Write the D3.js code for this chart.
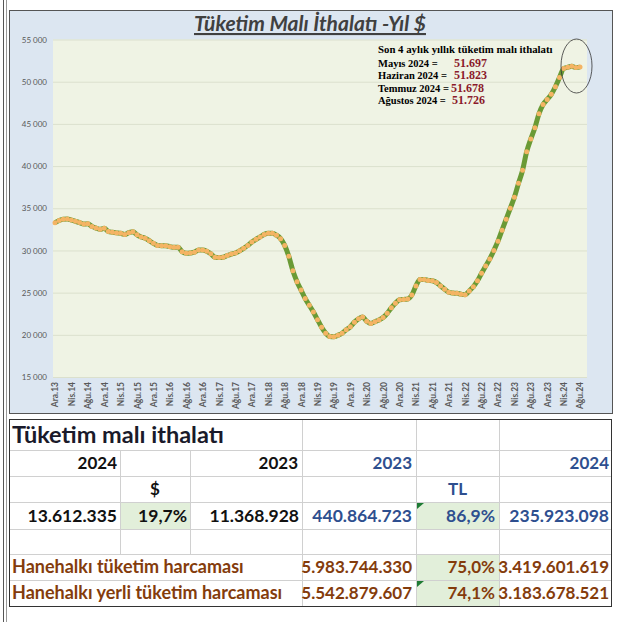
<!DOCTYPE html>
<html>
<head>
<meta charset="utf-8">
<script src="https://d3js.org/d3.v7.min.js"></script>
<style>
body {margin:0; background:#fff}
svg {display:block}
</style>
</head>
<body>
<svg width="617" height="622"></svg>
<script>
/*** Data ***/
const monthNames = ["Oca","Şub","Mar","Nis","May","Haz","Tem","Ağu","Eyl","Eki","Kas","Ara"]
const months = ["Ara.13"]
for (let y = 14; y <= 24; y++) monthNames.forEach((m, i) => { if (y < 24 || i < 8) months.push(m + "." + y) })

// yıllık tüketim malı ithalatı, milyon $ (Ara.13 - Ağu.24)
const values = [
	33285, 33550, 33700, 33720, 33600, 33450, 33300, 33130, 33150, 32850,
	32650, 32500, 32620, 32250, 32150, 32080, 32030, 31900, 32100, 32220,
	31850, 31600, 31450, 31150, 30840, 30600, 30560, 30560, 30450, 30370,
	30370, 29850, 29660, 29700, 29800, 30050, 30050, 29900, 29600, 29190,
	29150, 29190, 29400, 29570, 29700, 29950, 30250, 30600, 31000, 31320,
	31600, 31900, 32030, 32030, 31800, 31400, 30600, 29300, 27600, 26300,
	25300, 24300, 23500, 22700, 21800, 20900, 20200, 19800, 19780, 19950,
	20180, 20600, 20950, 21500, 21900, 22100, 21600, 21350, 21550, 21750,
	22050, 22550, 23200, 23750, 24150, 24200, 24250, 24720, 25800, 26550,
	26550, 26450, 26400, 26200, 25800, 25400, 25050, 24950, 24920, 24820,
	24750, 25200, 25700, 26400, 27300, 28150, 29000, 30000, 31100, 32400,
	33700, 35000, 36300, 37950, 39500, 41700, 43200, 44550, 46200, 47300,
	47900, 48500, 49400, 50500, 51550, 51697, 51823, 51678, 51726
]

const tickLabels = ["Ara.13","Nis.14","Ağu.14","Ara.14","Nis.15","Ağu.15","Ara.15","Nis.16","Ağu.16","Ara.16",
	"Nis.17","Ağu.17","Ara.17","Nis.18","Ağu.18","Ara.18","Nis.19","Ağu.19","Ara.19","Nis.20","Ağu.20",
	"Ara.20","Nis.21","Ağu.21","Ara.21","Nis.22","Ağu.22","Ara.22","Nis.23","Ağu.23","Ara.23","Nis.24","Ağu.24"]
const yTicks = [15000, 20000, 25000, 30000, 35000, 40000, 45000, 50000, 55000]

const noteTitle = "Son 4 aylık yıllık tüketim malı ithalatı"
const noteLabels = ["Mayıs 2024 =", "Haziran 2024 =", "Temmuz 2024 =", "Ağustos 2024 ="]
const noteValues = ["51.697", "51.823", "51.678", "51.726"]

// tablo
const tableTitle = "Tüketim malı ithalatı"
const usdYears = ["2024", "2023"]
const tlYears = ["2023", "2024"]
const usdRow = ["13.612.335", "19,7%", "11.368.928"]
const tlRow = ["440.864.723", "86,9%", "235.923.098"]
const hhLabels = ["Hanehalkı tüketim harcaması", "Hanehalkı yerli tüketim harcaması"]
const hhValues = [["5.983.744.330", "75,0%", "3.419.601.619"], ["5.542.879.607", "74,1%", "3.183.678.521"]]

/*** Chart ***/
const svg = d3.select("svg")
const sans = "Lato, 'Open Sans', sans-serif"

// frame
svg.append("line").attr("x1", 3.5).attr("x2", 3.5).attr("y1", 0).attr("y2", 622).attr("stroke", "#555")
svg.append("line").attr("x1", 6.5).attr("x2", 6.5).attr("y1", 0).attr("y2", 622).attr("stroke", "#999")
svg.append("rect").attr("x", 9.5).attr("y", 10.5).attr("width", 603).attr("height", 403)
   .attr("fill", "#dce6f1").attr("stroke", "#555")

const pl = 53, pr = 587, pt = 39.5, pb = 377
svg.append("rect").attr("x", pl).attr("y", pt).attr("width", pr - pl).attr("height", pb - pt).attr("fill", "#eff3e4")

const x = d3.scalePoint().domain(months).range([55, 580])
const y = d3.scaleLinear().domain([15000, 55000]).range([pb, pt])

const ya = svg.append("g")
	.attr("transform", "translate(" + pl + ",0)")
	.call(d3.axisLeft(y).tickValues(yTicks).tickSize(-(pr - pl)).tickPadding(6)
		.tickFormat((d) => d3.format(",")(d).replace(",", " ")))
ya.select(".domain").remove()
ya.selectAll("line").attr("stroke", "#dbe0cd")
ya.selectAll("text").attr("fill", "#595959").style("font", "8px " + sans)

const xa = svg.append("g")
	.attr("transform", "translate(0," + pb + ")")
	.call(d3.axisBottom(x).tickValues(tickLabels).tickSize(0))
xa.select(".domain").remove()
xa.selectAll("text")
  .attr("transform", "rotate(-90)")
  .attr("x", -5).attr("y", 0).attr("dy", "0.35em")
  .attr("text-anchor", "end")
  .attr("fill", "#595959")
  .style("font", "bold 8.5px " + sans)

// seri
const line = d3.line().x((d, i) => x(months[i])).y((d) => y(d)).curve(d3.curveMonotoneX)
svg.append("path").datum(values)
   .attr("d", line).attr("fill", "none").attr("stroke", "#6a9a35").attr("stroke-width", 5)
svg.append("g").selectAll("circle").data(values).enter().append("circle")
   .attr("cx", (d, i) => x(months[i])).attr("cy", (d) => y(d)).attr("r", 2.5).attr("fill", "#f4b464")

// title
svg.append("text").attr("x", 310).attr("y", 31).attr("text-anchor", "middle")
   .attr("fill", "#404040").style("font", "italic bold 21px " + sans).style("text-decoration", "underline")
   .text("Tüketim Malı İthalatı -Yıl $")

// not
const serif = "'Liberation Serif', 'Times New Roman', serif"
svg.append("text").attr("x", 378).attr("y", 53).style("font", "bold 10.8px " + serif).text(noteTitle)
noteLabels.forEach((t, i) => {
	svg.append("text").attr("x", 378).attr("y", 66.5 + i * 12.6).style("font", "bold 10.5px " + serif).text(t)
	svg.append("text").attr("x", [454, 454, 451, 452][i]).attr("y", 66.5 + i * 12.6)
	   .attr("fill", "#8b1a2b").style("font", "bold 12px " + serif).text(noteValues[i])
})
svg.append("ellipse").attr("cx", 576.5).attr("cy", 66).attr("rx", 15.5).attr("ry", 27)
   .attr("fill", "none").attr("stroke", "#333").attr("stroke-width", 0.8)

/*** Table ***/
const cx = [10, 120, 190, 302, 416, 499, 611]
const ry = [420, 450, 476, 502, 529, 554, 580, 606]
const blue = "#2e4f8f", brown = "#843c0c", dark = "#111"
const tb = svg.append("g")

tb.append("rect").attr("x", cx[0]).attr("y", ry[0]).attr("width", cx[6] - cx[0]).attr("height", ry[7] - ry[0]).attr("fill", "#fff")
// green cells
;[[1, 3], [4, 3], [4, 5], [4, 6]].forEach((c) => {
	tb.append("rect").attr("x", cx[c[0]]).attr("y", ry[c[1]]).attr("width", cx[c[0] + 1] - cx[c[0]])
	  .attr("height", ry[c[1] + 1] - ry[c[1]]).attr("fill", "#e2efda")
})
// grid
ry.slice(1, 7).forEach((v) => tb.append("line").attr("x1", cx[0]).attr("x2", cx[6]).attr("y1", v + .5).attr("y2", v + .5).attr("stroke", "#d0d0d0"))
;[1, 2].forEach((c) => tb.append("line").attr("x1", cx[c] + .5).attr("x2", cx[c] + .5).attr("y1", ry[1]).attr("y2", ry[5]).attr("stroke", "#d0d0d0"))
;[3, 4, 5].forEach((c) => tb.append("line").attr("x1", cx[c] + .5).attr("x2", cx[c] + .5).attr("y1", ry[0]).attr("y2", ry[7]).attr("stroke", "#d0d0d0"))
tb.append("rect").attr("x", cx[0] - .5).attr("y", ry[0] - .5).attr("width", cx[6] - cx[0] + 1).attr("height", ry[7] - ry[0] + 1)
  .attr("fill", "none").attr("stroke", "#333")
// error triangles
;[3, 6].forEach((r) => tb.append("path").attr("d", "M" + (cx[4] + 1) + "," + (ry[r] + 1) + "h7l-7,6z").attr("fill", "#1e7b34"))

function cell(t, x, y, color, anchor, size) {
	tb.append("text").attr("x", x).attr("y", y).attr("text-anchor", anchor || "end")
	  .attr("fill", color).style("font", "bold " + (size || 17) + "px " + sans).text(t)
}
cell(tableTitle, 12, 443, "#1a1a2a", "start", 23.5)
cell(usdYears[0], cx[1] - 3, 469, dark)
cell(usdYears[1], cx[3] - 4, 469, dark)
cell(tlYears[0], cx[4] - 4, 469, blue)
cell(tlYears[1], cx[6] - 2, 469, blue)
cell("$", (cx[1] + cx[2]) / 2, 495, dark, "middle")
cell("TL", (cx[4] + cx[5]) / 2, 495, blue, "middle")
usdRow.forEach((t, i) => cell(t, cx[i + 1] - 3, 522, dark, "end", 17.5))
tlRow.forEach((t, i) => cell(t, cx[i + 4] - (i == 2 ? 2 : 4), 522, blue, "end", 17.5))
hhLabels.forEach((t, r) => {
	cell(t, 12, 573 + r * 25.5, brown, "start", 18)
	hhValues[r].forEach((v, i) => cell(v, cx[i + 4] - (i == 2 ? 2 : 4), 573 + r * 25.5, brown))
})
</script>
</body>
</html>
